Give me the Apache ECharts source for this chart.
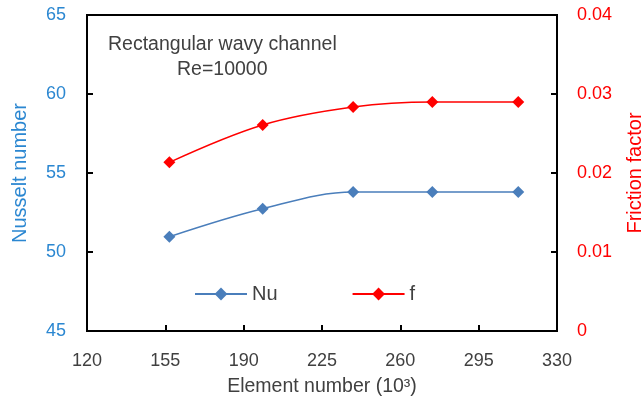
<!DOCTYPE html>
<html>
<head>
<meta charset="utf-8">
<script src="https://cdn.jsdelivr.net/npm/echarts@6/dist/echarts.min.js"></script>
<style>
html,body{margin:0;padding:0;background:#fff;}
#c{width:643px;height:401px;}
</style>
</head>
<body>
<div id="c"></div>
<script>
var elements = [156.8, 198.5, 238.9, 274.3, 312.7];
var nuValues = [50.97, 52.74, 53.80, 53.80, 53.80];
var fValues = [0.02135, 0.02608, 0.02835, 0.02899, 0.02899];
var xTicks = [120, 155, 190, 225, 260, 295, 330];
var nuTicks = [45, 50, 55, 60, 65];
var fTicks = [0, 0.01, 0.02, 0.03, 0.04];

var FONT = '"Liberation Sans", Arial, sans-serif';
var chart = echarts.init(document.getElementById('c'), null, {renderer: 'canvas'});

function pairs(xs, ys) { return xs.map(function (x, i) { return [x, ys[i]]; }); }

chart.setOption({
  animation: false,
  backgroundColor: '#ffffff',
  textStyle: {fontFamily: FONT},
  grid: {left: 87, right: 86, top: 15, bottom: 70, show: true, borderColor: '#000', borderWidth: 2,
         backgroundColor: 'transparent', containLabel: false, outerBoundsMode: 'none'},
  legend: {
    left: 194, top: 284, padding: 0,
    itemWidth: 52, itemHeight: 16, itemGap: 74,
    textStyle: {fontFamily: FONT, fontSize: 20, color: '#404040', padding: [0, 0, 0, 0]},
    data: ['Nu', 'f']
  },
  xAxis: {
    type: 'value', min: xTicks[0], max: xTicks[xTicks.length - 1], interval: xTicks[1] - xTicks[0],
    name: 'Element number (10³)', nameLocation: 'middle', nameGap: 46,
    nameTextStyle: {fontFamily: FONT, fontSize: 19.5, color: '#404040'},
    axisLine: {lineStyle: {color: '#000', width: 2}},
    axisTick: {inside: true, length: 6, lineStyle: {color: '#000', width: 2}},
    axisLabel: {margin: 21, fontFamily: FONT, fontSize: 18, color: '#404040'},
    splitLine: {show: false}
  },
  yAxis: [{
    type: 'value', min: nuTicks[0], max: nuTicks[nuTicks.length - 1], interval: nuTicks[1] - nuTicks[0],
    name: 'Nusselt number', nameLocation: 'middle', nameGap: 57, nameRotate: 90,
    nameTextStyle: {fontFamily: FONT, fontSize: 20, color: '#2b87d1'},
    axisLine: {show: true, lineStyle: {color: '#000', width: 2}},
    axisTick: {show: true, inside: true, length: 6, lineStyle: {color: '#000', width: 2}},
    axisLabel: {margin: 21, fontFamily: FONT, fontSize: 18, color: '#2b87d1'},
    splitLine: {show: false}
  }, {
    type: 'value', min: fTicks[0], max: fTicks[fTicks.length - 1], interval: fTicks[1] - fTicks[0],
    position: 'right',
    name: 'Friction factor', nameLocation: 'middle', nameGap: 68, nameRotate: 90,
    nameTextStyle: {fontFamily: FONT, fontSize: 20, color: '#ff0000'},
    axisLine: {show: true, lineStyle: {color: '#000', width: 2}},
    axisTick: {show: true, inside: true, length: 6, lineStyle: {color: '#000', width: 2}},
    axisLabel: {margin: 20, fontFamily: FONT, fontSize: 18, color: '#ff0000'},
    splitLine: {show: false}
  }],
  graphic: [{
    type: 'text', left: 108, top: 35,
    style: {text: 'Rectangular wavy channel', fontFamily: FONT, fontSize: 19.5, fill: '#404040'}
  }, {
    type: 'text', left: 177, top: 60,
    style: {text: 'Re=10000', fontFamily: FONT, fontSize: 19.5, fill: '#404040'}
  }],
  series: [{
    name: 'Nu', type: 'line', yAxisIndex: 0, smooth: 0.35,
    data: pairs(elements, nuValues),
    symbol: 'diamond', symbolSize: 12,
    lineStyle: {color: '#4a7ebb', width: 1.5},
    itemStyle: {color: '#4a7ebb'}
  }, {
    name: 'f', type: 'line', yAxisIndex: 1, smooth: 0.35,
    data: pairs(elements, fValues),
    symbol: 'diamond', symbolSize: 12,
    lineStyle: {color: '#ff0000', width: 1.5},
    itemStyle: {color: '#ff0000'}
  }]
});
</script>
</body>
</html>
